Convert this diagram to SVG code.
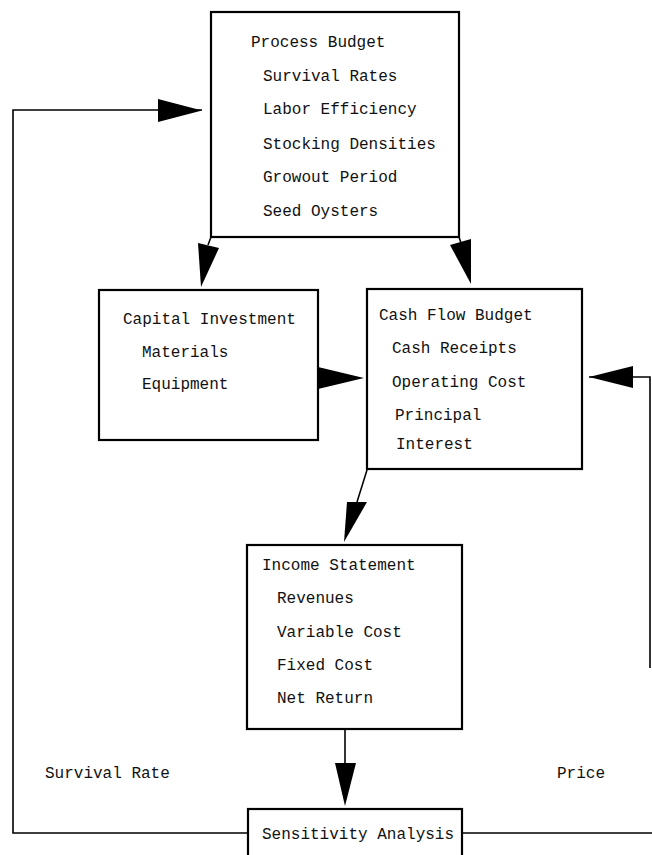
<svg xmlns="http://www.w3.org/2000/svg" width="652" height="855" viewBox="0 0 652 855">
<style>
.box{fill:#fff;stroke:#000;stroke-width:2.2}
.t{font-family:"Liberation Mono","DejaVu Sans Mono",monospace;font-size:16px;fill:#111}
.ln{fill:none;stroke:#000;stroke-width:1.6}
.ah{fill:#000;stroke:none}
</style>
<rect width="652" height="855" fill="#fff"/>
<g id="connectors">
<polyline class="ln" points="202,110 13,110 13,833 248,833"/>
<polygon class="ah" points="158,99 202,110.5 158,122"/>
<line class="ln" x1="211" y1="237" x2="208" y2="245"/>
<polygon class="ah" points="198,243 219,248 201,287"/>
<line class="ln" x1="459" y1="237" x2="461" y2="243"/>
<polygon class="ah" points="450,245 471,239 471,284"/>
<polygon class="ah" points="318,367 364,378 318,389"/>
<polyline class="ln" points="589,377 650,377 650,668"/>
<polygon class="ah" points="633,366 589,377 633,388"/>
<line class="ln" x1="462" y1="833" x2="652" y2="833"/>
<line class="ln" x1="367" y1="470" x2="357" y2="502"/>
<polygon class="ah" points="347,502 367,502 344,542"/>
<line class="ln" x1="345" y1="729" x2="345" y2="763"/>
<polygon class="ah" points="335,763 356,763 345,806"/>
</g>
<g id="process-budget">
<rect class="box" x="211" y="12" width="248" height="225"/>
<text class="t" x="251" y="47">Process Budget</text>
<text class="t" x="263" y="81">Survival Rates</text>
<text class="t" x="263" y="114">Labor Efficiency</text>
<text class="t" x="263" y="149">Stocking Densities</text>
<text class="t" x="263" y="182">Growout Period</text>
<text class="t" x="263" y="216">Seed Oysters</text>
</g>
<g id="capital-investment">
<rect class="box" x="99" y="290" width="219" height="150"/>
<text class="t" x="123" y="324">Capital Investment</text>
<text class="t" x="142" y="357">Materials</text>
<text class="t" x="142" y="389">Equipment</text>
</g>
<g id="cash-flow-budget">
<rect class="box" x="367" y="289" width="215" height="180"/>
<text class="t" x="379" y="320">Cash Flow Budget</text>
<text class="t" x="392" y="353">Cash Receipts</text>
<text class="t" x="392" y="387">Operating Cost</text>
<text class="t" x="395" y="420">Principal</text>
<text class="t" x="396" y="449">Interest</text>
</g>
<g id="income-statement">
<rect class="box" x="247" y="545" width="215" height="184"/>
<text class="t" x="262" y="570">Income Statement</text>
<text class="t" x="277" y="603">Revenues</text>
<text class="t" x="277" y="637">Variable Cost</text>
<text class="t" x="277" y="670">Fixed Cost</text>
<text class="t" x="277" y="703">Net Return</text>
</g>
<g id="sensitivity-analysis">
<rect class="box" x="248" y="809" width="214" height="70"/>
<text class="t" x="262" y="839">Sensitivity Analysis</text>
</g>
<g id="labels">
<text class="t" x="45" y="778">Survival Rate</text>
<text class="t" x="557" y="778">Price</text>
</g>
</svg>
